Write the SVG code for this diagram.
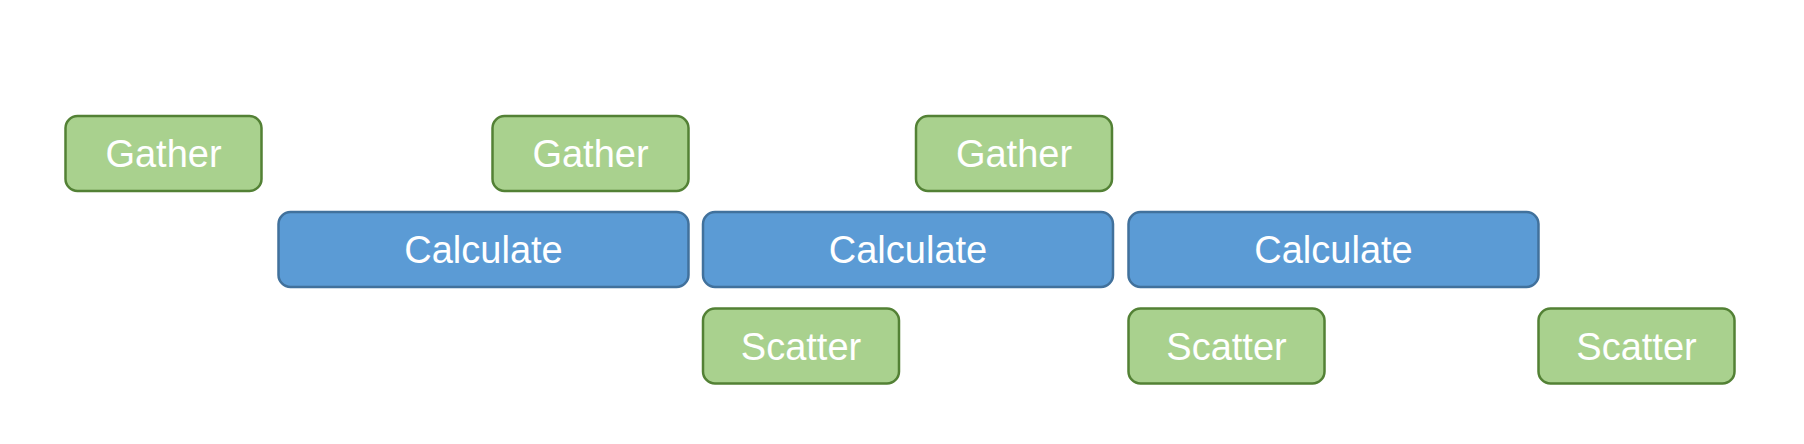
<svg xmlns="http://www.w3.org/2000/svg" width="1804" height="444" viewBox="0 0 1804 444">
<style>
.g{fill:#a9d18e;stroke:#538135;stroke-width:2.5}
.b{fill:#5b9bd5;stroke:#41719c;stroke-width:2.5}
text{font-family:"Liberation Sans",Arial,sans-serif;font-size:38px;fill:#fff;text-anchor:middle;dominant-baseline:central}
</style>
<rect width="1804" height="444" fill="#fff"/>
<g id="gather1"><rect class="g" x="65.5" y="116" width="196" height="75" rx="12"/><text x="163.5" y="154">Gather</text></g>
<g id="gather2"><rect class="g" x="492.5" y="116" width="196" height="75" rx="12"/><text x="590.5" y="154">Gather</text></g>
<g id="gather3"><rect class="g" x="916" y="116" width="196" height="75" rx="12"/><text x="1014" y="154">Gather</text></g>
<g id="calc1"><rect class="b" x="278.5" y="212" width="410" height="75" rx="12"/><text x="483.5" y="250">Calculate</text></g>
<g id="calc2"><rect class="b" x="703" y="212" width="410" height="75" rx="12"/><text x="908" y="250">Calculate</text></g>
<g id="calc3"><rect class="b" x="1128.5" y="212" width="410" height="75" rx="12"/><text x="1333.5" y="250">Calculate</text></g>
<g id="scatter1"><rect class="g" x="703" y="308.5" width="196" height="75" rx="12"/><text x="801" y="346.5">Scatter</text></g>
<g id="scatter2"><rect class="g" x="1128.5" y="308.5" width="196" height="75" rx="12"/><text x="1226.5" y="346.5">Scatter</text></g>
<g id="scatter3"><rect class="g" x="1538.5" y="308.5" width="196" height="75" rx="12"/><text x="1636.5" y="346.5">Scatter</text></g>
<g id="connectors"></g>
</svg>
